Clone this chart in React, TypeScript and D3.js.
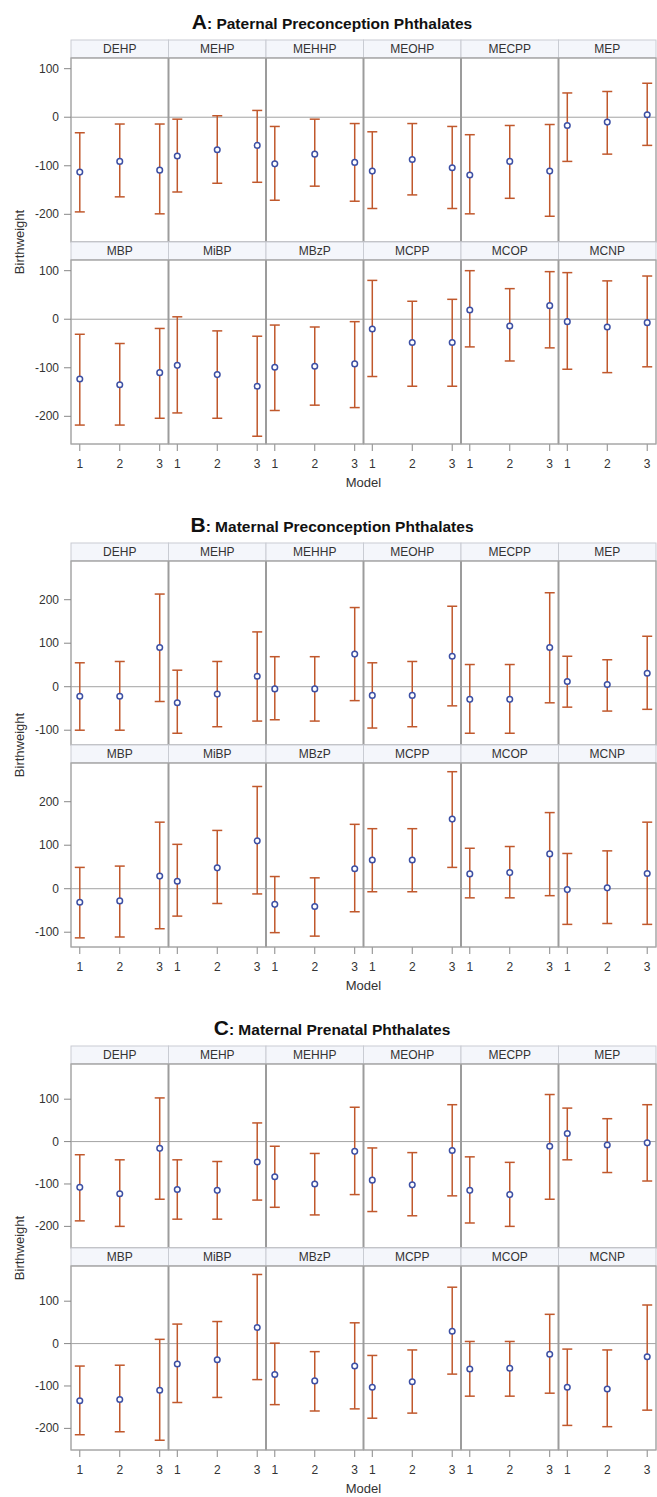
import React from 'react';
import * as d3 from 'd3';

// facet labels, one array per row of cells
const rowOne = ['DEHP', 'MEHP', 'MEHHP', 'MEOHP', 'MECPP', 'MEP'];
const rowTwo = ['MBP', 'MiBP', 'MBzP', 'MCPP', 'MCOP', 'MCNP'];
const models = [1, 2, 3];

// A: paternal preconception, per phthalate [model1, model2, model3]
const paternalEst = [
  [-113, -91, -109], [-80, -67, -58], [-96, -76, -93], [-111, -87, -104], [-119, -91, -111], [-17, -10, 5],
  [-123, -135, -110], [-95, -114, -138], [-99, -97, -92], [-20, -48, -48], [19, -14, 28], [-5, -16, -7],
];
const paternalLo = [
  [-195, -164, -199], [-154, -136, -134], [-171, -142, -173], [-188, -160, -188], [-199, -167, -204], [-91, -76, -58],
  [-218, -218, -204], [-193, -204, -241], [-188, -177, -182], [-118, -138, -138], [-57, -86, -59], [-103, -110, -98],
];
const paternalHi = [
  [-32, -14, -14], [-4, 3, 14], [-19, -4, -13], [-30, -13, -19], [-36, -17, -15], [50, 53, 70],
  [-31, -50, -19], [5, -24, -35], [-12, -16, -5], [80, 37, 41], [100, 63, 98], [96, 79, 89],
];

// B: maternal preconception
const matPreEst = [
  [-22, -22, 90], [-37, -17, 24], [-5, -5, 75], [-20, -20, 70], [-29, -29, 90], [12, 5, 31],
  [-31, -28, 29], [17, 48, 110], [-36, -41, 46], [66, 66, 160], [34, 37, 80], [-2, 2, 35],
];
const matPreLo = [
  [-100, -100, -34], [-107, -92, -79], [-76, -79, -32], [-95, -92, -44], [-107, -107, -37], [-47, -56, -52],
  [-113, -111, -92], [-63, -34, -12], [-101, -109, -53], [-7, -7, 49], [-21, -21, -16], [-82, -80, -82],
];
const matPreHi = [
  [55, 58, 213], [38, 58, 126], [69, 69, 182], [55, 58, 185], [51, 51, 216], [70, 62, 116],
  [49, 52, 153], [102, 134, 235], [28, 25, 148], [138, 138, 269], [93, 97, 175], [81, 87, 153],
];

// C: maternal prenatal
const prenatalEst = [
  [-108, -123, -16], [-113, -115, -48], [-83, -100, -23], [-91, -102, -21], [-115, -125, -11], [19, -8, -3],
  [-135, -132, -110], [-48, -38, 38], [-73, -88, -53], [-103, -90, 29], [-60, -58, -25], [-103, -107, -31],
];
const prenatalLo = [
  [-187, -200, -136], [-183, -183, -138], [-155, -173, -125], [-165, -175, -128], [-192, -200, -136], [-43, -73, -93],
  [-215, -208, -228], [-139, -127, -85], [-144, -159, -154], [-176, -164, -72], [-124, -124, -117], [-193, -196, -157],
];
const prenatalHi = [
  [-31, -43, 103], [-43, -47, 44], [-11, -28, 81], [-15, -26, 87], [-36, -49, 111], [79, 54, 87],
  [-53, -51, 10], [46, 52, 163], [1, -19, 49], [-28, -15, 133], [5, 5, 69], [-13, -15, 91],
];

const paternalTicks = [100, 0, -100, -200];
const matPreTicks = [200, 100, 0, -100];
const prenatalTicks = [100, 0, -100, -200];

const panels = [
  { letter: 'A', title: ': Paternal Preconception Phthalates', est: paternalEst, lo: paternalLo, hi: paternalHi, domain: [-257, 122], ticks: paternalTicks },
  { letter: 'B', title: ': Maternal Preconception Phthalates', est: matPreEst, lo: matPreLo, hi: matPreHi, domain: [-134, 289], ticks: matPreTicks },
  { letter: 'C', title: ': Maternal Prenatal Phthalates', est: prenatalEst, lo: prenatalLo, hi: prenatalHi, domain: [-251, 183], ticks: prenatalTicks },
];

const width = 657;
const height = 1497;
const left = 71;
const right = 656;
const headerH = 18;
const plotH = 184;
const panelTops = [40, 543, 1046];
const font = 'Liberation Sans, Arial, sans-serif';
const barColor = '#c0582c';
const dotColor = '#3c4fa4';
const frameColor = '#a6a6a6';

const Panel = ({ p, top }) => {
  const colScale = d3.scaleBand().domain(d3.range(6)).range([left, right]);
  const colW = colScale.bandwidth();
  const rows = [rowOne, rowTwo];
  const bottom = top + 2 * (headerH + plotH);

  return (
    <g>
      <text x={332} y={top - 11} textAnchor="middle" fontFamily={font} fontWeight="bold" fill="#111">
        <tspan fontSize={21}>{p.letter}</tspan>
        <tspan fontSize={15.5}>{p.title}</tspan>
      </text>

      {rows.map((names, r) => {
        const rowTop = top + r * (headerH + plotH);
        const y0 = rowTop + headerH;
        const y = d3.scaleLinear().domain(p.domain).range([y0 + plotH, y0]);
        return (
          <g key={r}>
            {names.map((name, c) => {
              const cx = colScale(c);
              const x = d3.scaleLinear().domain([0.78, 3.22]).range([cx, cx + colW]);
              const idx = r * 6 + c;
              return (
                <g key={name}>
                  <rect x={cx} y={rowTop} width={colW} height={headerH} fill="#f4f6fb" stroke="#c9ccd3" strokeWidth={1} />
                  <text x={cx + colW / 2} y={rowTop + 13.3} textAnchor="middle" fontFamily={font} fontSize={12} fill="#333">{name}</text>
                  <rect x={cx} y={y0} width={colW} height={plotH} fill="#fff" stroke={frameColor} strokeWidth={1} />
                  <line x1={cx} x2={cx + colW} y1={y(0)} y2={y(0)} stroke="#a3a3a3" strokeWidth={1} />
                  {models.map((m, k) => {
                    const xm = x(m);
                    return (
                      <g key={m}>
                        <line x1={xm} x2={xm} y1={y(p.lo[idx][k])} y2={y(p.hi[idx][k])} stroke={barColor} strokeWidth={1.5} />
                        <line x1={xm - 5} x2={xm + 5} y1={y(p.lo[idx][k])} y2={y(p.lo[idx][k])} stroke={barColor} strokeWidth={1.5} />
                        <line x1={xm - 5} x2={xm + 5} y1={y(p.hi[idx][k])} y2={y(p.hi[idx][k])} stroke={barColor} strokeWidth={1.5} />
                        <circle cx={xm} cy={y(p.est[idx][k])} r={2.8} fill="#fff" stroke={dotColor} strokeWidth={1.5} />
                      </g>
                    );
                  })}
                  {r === 1 && models.map((m) => (
                    <g key={`t${m}`}>
                      <line x1={x(m)} x2={x(m)} y1={bottom} y2={bottom + 7} stroke="#888" strokeWidth={1} />
                      <text x={x(m)} y={bottom + 24} textAnchor="middle" fontFamily={font} fontSize={12} fill="#333">{m}</text>
                    </g>
                  ))}
                </g>
              );
            })}
            {/* thicker dividers between columns */}
            {d3.range(1, 6).map((c) => (
              <line key={c} x1={colScale(c)} x2={colScale(c)} y1={y0} y2={y0 + plotH} stroke="#9c9c9c" strokeWidth={2} />
            ))}
            <rect x={left} y={y0} width={right - left} height={plotH} fill="none" stroke={frameColor} strokeWidth={1} />
            {p.ticks.map((t) => (
              <g key={t}>
                <line x1={left - 7} x2={left} y1={y(t)} y2={y(t)} stroke="#888" strokeWidth={1} />
                <text x={left - 12} y={y(t) + 4} textAnchor="end" fontFamily={font} fontSize={12} fill="#333">{t}</text>
              </g>
            ))}
          </g>
        );
      })}

      <text x={(left + right) / 2} y={bottom + 43} textAnchor="middle" fontFamily={font} fontSize={13} fill="#333">Model</text>
      <text
        transform={`translate(24, ${(top + bottom) / 2}) rotate(-90)`}
        textAnchor="middle"
        fontFamily={font}
        fontSize={13}
        fill="#333"
      >
        Birthweight
      </text>
    </g>
  );
};

export default function App() {
  return (
    <div style={{ position: 'absolute', left: 0, top: 0 }}>
      <svg width={width} height={height} style={{ display: 'block', background: '#fff' }}>
        {panels.map((p, i) => (
          <Panel key={p.letter} p={p} top={panelTops[i]} />
        ))}
      </svg>
    </div>
  );
}
